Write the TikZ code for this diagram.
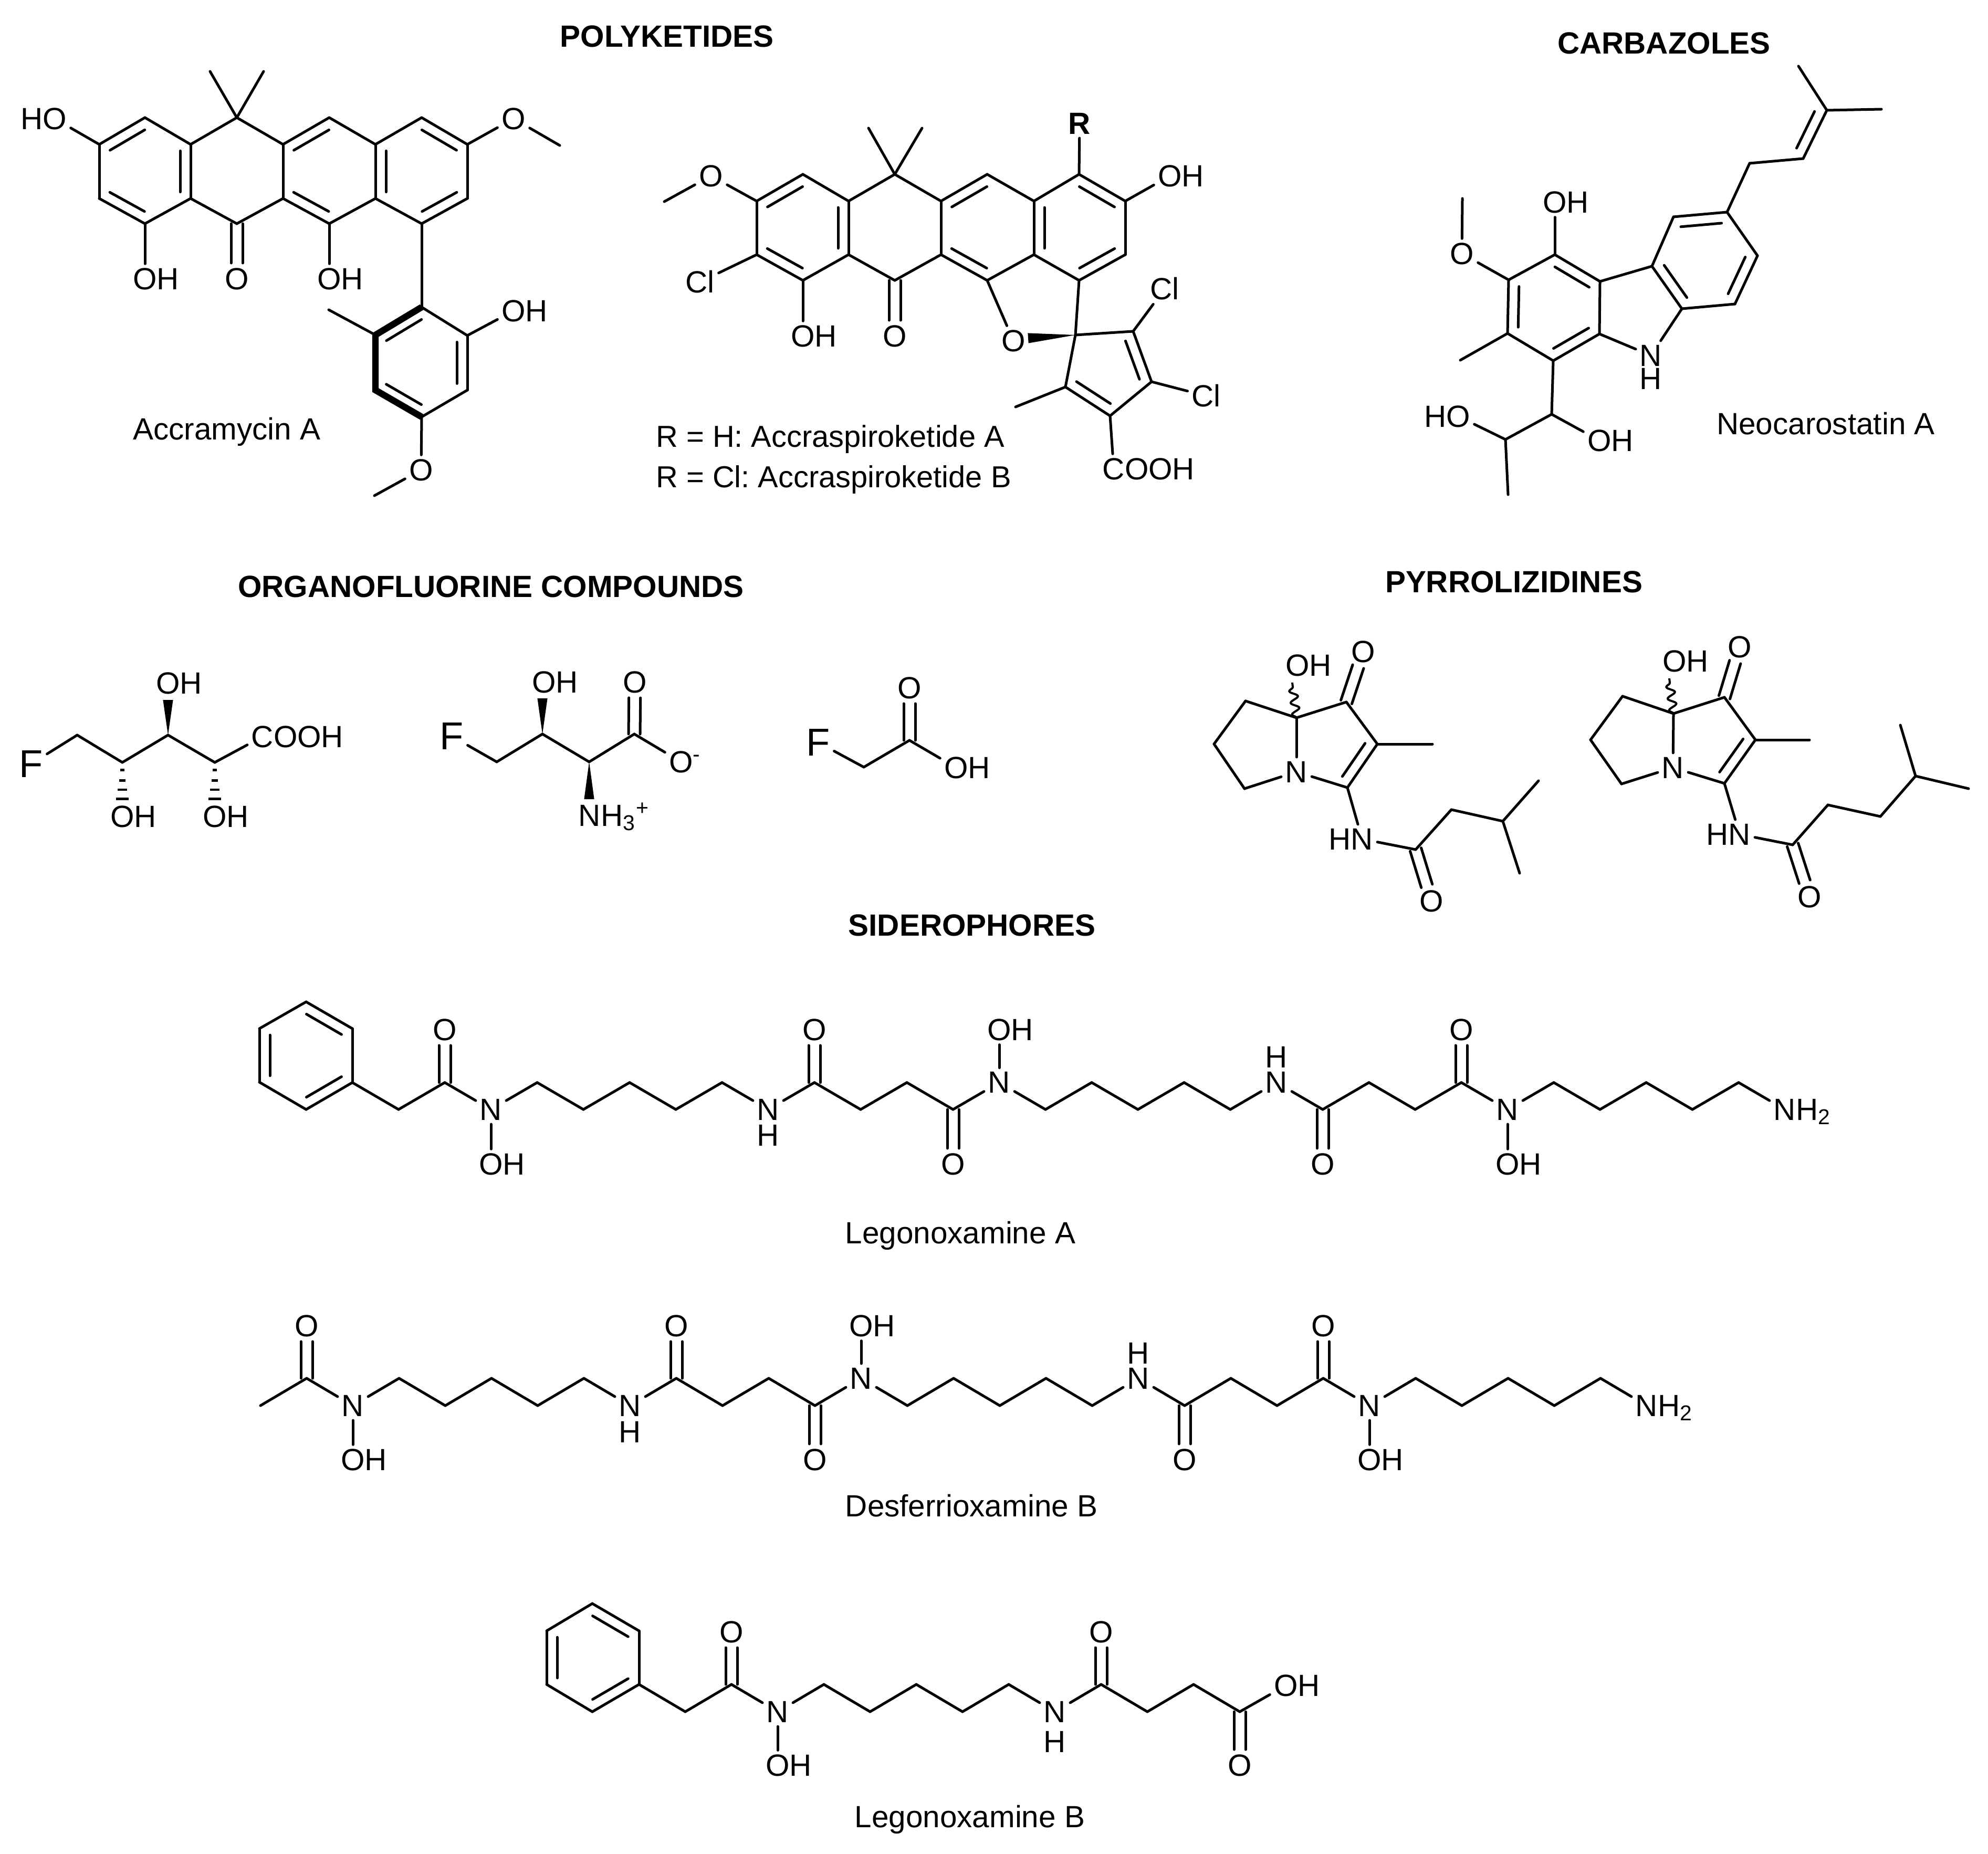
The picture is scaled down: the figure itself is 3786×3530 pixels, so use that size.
\documentclass[tikz,border=0pt]{standalone}
\usepackage{fontspec}
\setmainfont{Liberation Sans}
\usetikzlibrary{calc,decorations.pathmorphing}

\tikzset{every picture/.style={line width=1.25pt},
  bond/.style={line width=1.25pt,line cap=round},
  boldbond/.style={line width=3.1pt,line join=miter},
  wavybond/.style={line width=1pt,decorate,decoration={snake,amplitude=1.9pt,segment length=5.6pt}},
  atom/.style={inner sep=2pt,outer sep=0pt,font=\fontsize{14.6}{17}\selectfont},
  bigatom/.style={atom,font=\fontsize{18.5}{20}\selectfont},
  molname/.style={anchor=base,inner sep=0pt,font=\fontsize{14.6}{17}\selectfont},
  grouptitle/.style={anchor=base,inner sep=0pt,font=\fontsize{14.6}{17}\selectfont\bfseries}}

\newcommand{\atoms}[1]{\foreach \n/\xx/\yy in {#1} \coordinate (\n) at (\xx,\yy);}
\newcommand{\bonds}[1]{\foreach \pa/\pb in {#1} \draw[bond] (\pa) -- (\pb);}
% second line inside the ring, list the two atoms going round the ring counterclockwise
\newcommand{\inbonds}[1]{\foreach \pa/\pb in {#1} \draw[bond] ($(\pa)!.12!(\pb)!5pt!-90:(\pb)$) -- ($(\pb)!.12!(\pa)!5pt!90:(\pa)$);}
% C=O, both lines beside the axis
\newcommand{\dblbonds}[1]{\foreach \pa/\pb in {#1} {
  \draw[bond,shorten >=7.5pt] ($(\pa)!2.75pt!90:(\pb)$) -- ($(\pb)!2.75pt!-90:(\pa)$);
  \draw[bond,shorten >=7.5pt] ($(\pa)!2.75pt!-90:(\pb)$) -- ($(\pb)!2.75pt!90:(\pa)$);}}
\newcommand{\wedgebond}[3]{\fill (#1) -- ($(#2)!#3!90:(#1)$) -- ($(#2)!#3!-90:(#1)$) -- cycle;}
\newcommand{\hashbond}[2]{\foreach \pos/\hw in {.2/1pt,.47/1.6pt,.71/2.2pt,.95/2.9pt}
  \draw[line width=1.1pt] ($(#1)!\pos!(#2)!\hw!90:(#2)$) -- ($(#1)!\pos!(#2)!\hw!-90:(#2)$);}
\newcommand{\zigzag}[5]{\foreach \i in {0,...,#5} \coordinate (#1\i) at ({#2+88*\i},{#3+(#4-#3)*mod(\i,2)});}
\newcommand{\zigbonds}[2]{\foreach \i [count=\j from 1] in {0,...,#2} \draw[bond] (#1\i) -- (#1\j);}

\begin{document}
\frenchspacing
\begin{tikzpicture}[x=0.25pt,y=0.25pt,yscale=-1,xscale=1]
\useasboundingbox (0,0) rectangle (3786,3530);

% Group titles
\node[grouptitle] (titlepoly) at (1270,90) {POLYKETIDES};
\node[grouptitle] (titlecarb) at (3169,103) {CARBAZOLES};
\node[grouptitle] (titleorg) at (935,1137) {ORGANOFLUORINE COMPOUNDS};
\node[grouptitle] (titlepyr) at (2883,1128) {PYRROLIZIDINES};
\node[grouptitle] (titlesid) at (1851,1782) {SIDEROPHORES};

% Accramycin A
\atoms{a1/276/224,a2/189/275,a3/189/378,a4/276/426,a5/363/378,a6/363/275,a7/451/224,a8/451/426,a9/539/275,
  a10/539/378,a11/627/224,a12/627/426,a13/715/275,a14/715/378,a15/803/224,a16/803/426,a17/890/275,a18/890/378,
  a19/400/136,a20/502/136,a21/803/585,a22/890/639,a23/890/743,a24/803/794,a25/715/743,a26/715/638,a27/626/590,
  a28/713/944,a29/1066/277}
\node[atom] (ao1) at (104,226) {\llap{H}O};
\node[atom] (ao2) at (978,226) {O};
\node[atom] (ao3) at (276,531) {O\rlap{H}};
\node[atom] (ao4) at (451,531) {O};
\node[atom] (ao5) at (627,531) {O\rlap{H}};
\node[atom] (ao6) at (978,592) {O\rlap{H}};
\node[atom] (ao7) at (802,895) {O};
\bonds{a1/a2,a2/a3,a3/a4,a4/a5,a5/a6,a6/a1,a6/a7,a7/a9,a9/a11,a11/a13,a13/a14,a14/a12,a12/a10,a10/a9,a10/a8,a8/a5,
  a13/a15,a15/a17,a17/a18,a18/a16,a16/a14,a7/a19,a7/a20,a2/ao1,a17/ao2,ao2/a29,a4/ao3,a12/ao5,a16/a21,a21/a22,
  a22/a23,a23/a24,a24/ao7,ao7/a28,a26/a27,a22/ao6}
\draw[boldbond] (a21) -- (a26) -- (a25) -- (a24);
\inbonds{a1/a2,a3/a4,a5/a6,a11/a9,a10/a12,a13/a14,a16/a18,a17/a15,a21/a26,a25/a24,a23/a22}
\dblbonds{a8/ao4}
\node[molname] (namea) at (432,837) {Accramycin A};

% Accraspiroketides
\atoms{s1/1529/332,s2/1441/383,s3/1441/485,s4/1529/534,s5/1616/485,s6/1616/383,s7/1704/332,s8/1704/534,s9/1792/383,
  s10/1792/485,s11/1880/332,s12/1880/534,s13/1969/383,s14/1969/485,s15/2055/332,s16/2055/534,s17/2143/383,s18/2143/485,
  s19/1654/244,s20/1756/244,s21/2048/638,s22/2158/631,s23/2193/727,s24/2114/792,s25/2029/737,s26/1934/775,s27/1958/644,
  s28/1265/384}
\node[atom] (so1) at (1354,335) {O};
\node[atom] (scl1) at (1333,537) {Cl};
\node[atom] (so2) at (1529,640) {O\rlap{H}};
\node[atom] (so3) at (1704,640) {O};
\node[atom] (so4) at (1930,649) {O};
\node[atom] (sr) at (2056,235) {\textbf{R}};
\node[atom] (so5) at (2228,335) {O\rlap{H}};
\node[atom] (scl2) at (2218,550) {Cl};
\node[atom] (scl3) at (2297,754) {Cl};
\node[atom] (scooh) at (2121,893) {C\rlap{OOH}};
\bonds{s1/s2,s2/s3,s3/s4,s4/s5,s5/s6,s6/s1,s6/s7,s7/s9,s9/s11,s11/s13,s13/s14,s14/s12,s12/s10,s10/s9,s10/s8,s8/s5,
  s13/s15,s15/s17,s17/s18,s18/s16,s16/s14,s7/s19,s7/s20,s2/so1,so1/s28,s3/scl1,s4/so2,s12/so4,s16/s21,s15/sr,s17/so5,
  s21/s22,s22/s23,s23/s24,s24/s25,s25/s21,s25/s26,s22/scl2,s23/scl3,s24/scooh}
\wedgebond{s21}{s27}{2.4pt}
\inbonds{s1/s2,s3/s4,s5/s6,s11/s9,s10/s12,s13/s14,s16/s18,s17/s15,s25/s24,s23/s22}
\dblbonds{s8/so3}
\node[molname,anchor=base west,font=\fontsize{14.45}{17}\selectfont] (names1) at (1247,851) {R = H: Accraspiroketide A};
\node[molname,anchor=base west,font=\fontsize{14.45}{17}\selectfont] (names2) at (1247,928) {R = Cl: Accraspiroketide B};

% Neocarostatin A
\atoms{c1/2961/485,c2/3047/536,c3/3046/636,c4/2958/687,c5/2871/635,c6/2873/533,c7/3146/507,c8/3203/588,c9/3187/413,
  c10/3289/404,c11/3347/487,c12/3304/579,c13/3332/311,c14/3434/302,c15/3479/210,c16/3583/208,c17/3425/126,c18/2785/378,
  c19/2781/686,c20/2955/789,c21/2867/837,c22/2872/942}
\node[atom] (cn) at (3144,677) {N};
\node[atom] (ch) at (3144,721) {H};
\node[atom] (co1) at (2961,385) {O\rlap{H}};
\node[atom] (co2) at (2784,483) {O};
\node[atom] (co3) at (2777,793) {\llap{H}O};
\node[atom] (co4) at (3046,839) {O\rlap{H}};
\bonds{c1/c2,c2/c3,c3/c4,c4/c5,c5/c6,c6/c1,c2/c7,c7/c8,c8/cn,cn/c3,c7/c9,c9/c10,c10/c11,c11/c12,c12/c8,c10/c13,c13/c14,
  c14/c15,c15/c16,c15/c17,c1/co1,c6/co2,co2/c18,c5/c19,c4/c20,c20/c21,c21/c22,c21/co3,c20/co4}
\inbonds{c2/c1,c4/c3,c6/c5,c7/c8,c12/c11,c10/c9,c14/c15}
\node[molname] (namec) at (3477,827) {Neocarostatin A};

% Organofluorine compounds
\atoms{f1/147/1400,f2/233/1452,f3/320/1400,f4/409/1452,f5/233/1525,f6/409/1525,f7/320/1333}
\node[bigatom] (ff) at (59,1455) {F};
\node[atom] (fo1) at (320,1301) {O\rlap{H}};
\node[atom] (fo2) at (233,1555) {O\rlap{H}};
\node[atom] (fo3) at (409,1555) {O\rlap{H}};
\node[atom] (fcooh) at (500,1403) {C\rlap{OOH}};
\bonds{ff/f1,f1/f2,f2/f3,f3/f4,f4/fcooh}
\wedgebond{f3}{f7}{2.4pt}
\hashbond{f2}{f5}
\hashbond{f4}{f6}

\atoms{g1/946/1451,g2/1033/1398,g3/1122/1451,g4/1208/1398,g5/1033/1330,g6/1122/1522}
\node[bigatom] (gf) at (860,1402) {F};
\node[atom] (go1) at (1036,1299) {O\rlap{H}};
\node[atom] (go2) at (1209,1299) {O};
\node[atom] (go3) at (1297,1451) {O\rlap{\smash{\textsuperscript{-}}}};
\node[atom] (gn) at (1123,1553) {N\rlap{\smash{H\textsubscript{3}\textsuperscript{+}}}};
\bonds{gf/g1,g1/g2,g2/g3,g3/g4,g4/go3}
\wedgebond{g2}{g5}{2.4pt}
\wedgebond{g3}{g6}{2.4pt}
\dblbonds{g4/go2}

\atoms{h1/1645/1461,h2/1732/1410}
\node[bigatom] (hf) at (1558,1414) {F};
\node[atom] (ho1) at (1732,1310) {O};
\node[atom] (ho2) at (1821,1462) {O\rlap{H}};
\bonds{hf/h1,h1/h2,h2/ho2}
\dblbonds{h2/ho1}

% Pyrrolizidines
\atoms{p1/2469/1367,p2/2564/1337,p3/2623/1417,p4/2566/1500,p5/2370/1502,p6/2312/1417,p7/2372/1335,p8/2461/1300,
  p9/2728/1417,p10/2696/1618,p11/2764/1542,p12/2862/1564,p13/2930/1487,p14/2894/1663}
\node[atom] (pn) at (2469,1470) {N};
\node[atom] (po1) at (2596,1241) {O};
\node[atom] (po2) at (2471,1267) {O\rlap{H}};
\node[atom] (pnh) at (2594,1598) {\llap{H}N};
\node[atom] (po3) at (2726,1716) {O};
\bonds{p1/p2,p2/p3,p3/p4,p4/pn,pn/p1,pn/p5,p5/p6,p6/p7,p7/p1,p3/p9,p4/pnh,pnh/p10,p10/p11,p11/p12,p12/p13,p12/p14}
\draw[wavybond] (p1) -- (p8);
\inbonds{p4/p3}
\dblbonds{p2/po1,p10/po3}

\atoms{q1/3187/1359,q2/3284/1328,q3/3343/1409,q4/3284/1492,q5/3088/1493,q6/3029/1409,q7/3090/1326,q8/3179/1292,
  q9/3446/1409,q10/3414/1609,q11/3481/1533,q12/3581/1555,q13/3648/1478,q14/3619/1381,q15/3749/1502}
\node[atom] (qn) at (3186,1462) {N};
\node[atom] (qo1) at (3313,1232) {O};
\node[atom] (qo2) at (3189,1259) {O\rlap{H}};
\node[atom] (qnh) at (3313,1589) {\llap{H}N};
\node[atom] (qo3) at (3446,1708) {O};
\bonds{q1/q2,q2/q3,q3/q4,q4/qn,qn/q1,qn/q5,q5/q6,q6/q7,q7/q1,q3/q9,q4/qnh,qnh/q10,q10/q11,q11/q12,q12/q13,q13/q14,q13/q15}
\draw[wavybond] (q1) -- (q8);
\inbonds{q4/q3}
\dblbonds{q2/qo1,q10/qo3}

% Legonoxamine A
\zigzag{la}{671}{2061.7}{2113}{31}
\atoms{lb1/583/1908,lb2/494/1959,lb3/494/2061,lb4/583/2113,lb5/671/1959}
\node[atom] (la3) at (la3) {N};
\node[atom] (la9) at (la9) {N};
\node[atom] (la14) at (la14) {N};
\node[atom] (la20) at (la20) {N};
\node[atom] (la25) at (la25) {N};
\node[atom] (la31) at (la31) {N\rlap{\smash{H\textsubscript{2}}}};
\node[atom] (la3o) at (935,2217) {O\rlap{H}};
\node[atom] (la9h) at (1463,2162) {H};
\node[atom] (la14o) at (1903,1961) {O\rlap{H}};
\node[atom] (la20h) at (2431,2013) {H};
\node[atom] (la25o) at (2871,2217) {O\rlap{H}};
\node[atom] (la2o) at (847,1961) {O};
\node[atom] (la10o) at (1551,1961) {O};
\node[atom] (la13o) at (1815,2217) {O};
\node[atom] (la21o) at (2519,2217) {O};
\node[atom] (la24o) at (2783,1961) {O};
\zigbonds{la}{30}
\bonds{lb1/lb2,lb2/lb3,lb3/lb4,lb4/la0,la0/lb5,lb5/lb1,la3/la3o,la14/la14o,la25/la25o}
\inbonds{lb5/lb1,lb2/lb3,lb4/la0}
\dblbonds{la2/la2o,la10/la10o,la13/la13o,la21/la21o,la24/la24o}
\node[molname] (namela) at (1829,2368) {Legonoxamine A};

% Desferrioxamine B
\zigzag{df}{496}{2677}{2625}{30}
\node[atom] (df2) at (df2) {N};
\node[atom] (df8) at (df8) {N};
\node[atom] (df13) at (df13) {N};
\node[atom] (df19) at (df19) {N};
\node[atom] (df24) at (df24) {N};
\node[atom] (df30) at (df30) {N\rlap{\smash{H\textsubscript{2}}}};
\node[atom] (df2o) at (672,2780) {O\rlap{H}};
\node[atom] (df8h) at (1200,2727) {H};
\node[atom] (df13o) at (1640,2525) {O\rlap{H}};
\node[atom] (df19h) at (2168,2577) {H};
\node[atom] (df24o) at (2608,2780) {O\rlap{H}};
\node[atom] (df1o) at (584,2525) {O};
\node[atom] (df9o) at (1288,2525) {O};
\node[atom] (df12o) at (1552,2780) {O};
\node[atom] (df20o) at (2256,2780) {O};
\node[atom] (df23o) at (2520,2525) {O};
\zigbonds{df}{29}
\bonds{df2/df2o,df13/df13o,df24/df24o}
\dblbonds{df1/df1o,df9/df9o,df12/df12o,df20/df20o,df23/df23o}
\node[molname] (namedf) at (1850,2888) {Desferrioxamine B};

% Legonoxamine B
\zigzag{lc}{1217}{3208}{3260}{13}
\atoms{ld1/1128/3054,ld2/1041/3106,ld3/1041/3208,ld4/1128/3260,ld5/1217/3106}
\node[atom] (lc3) at (lc3) {N};
\node[atom] (lc9) at (lc9) {N};
\node[atom] (lc3o) at (1481,3362) {O\rlap{H}};
\node[atom] (lc9h) at (2009,3317) {H};
\node[atom] (lc2o) at (1393,3108) {O};
\node[atom] (lc10o) at (2097,3108) {O};
\node[atom] (lc13o) at (2361,3362) {O};
\node[atom] (lc13h) at (2449,3210) {O\rlap{H}};
\zigbonds{lc}{12}
\bonds{ld1/ld2,ld2/ld3,ld3/ld4,ld4/lc0,lc0/ld5,ld5/ld1,lc3/lc3o,lc13/lc13h}
\inbonds{ld5/ld1,ld2/ld3,ld4/lc0}
\dblbonds{lc2/lc2o,lc10/lc10o,lc13/lc13o}
\node[molname] (namelc) at (1847,3480) {Legonoxamine B};

\end{tikzpicture}
\end{document}
